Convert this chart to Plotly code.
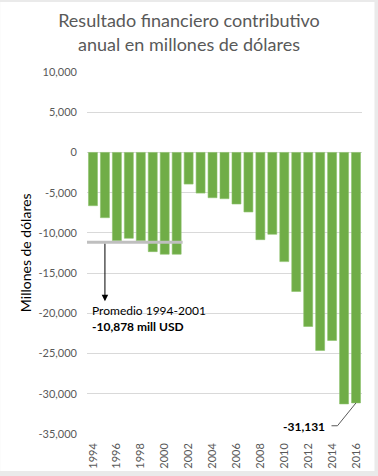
import plotly.graph_objects as go

years = list(range(1994, 2017))
values = [-6620, -8110, -10990, -10670, -10990, -12330, -12650, -12650,
          -3930, -5050, -5630, -5750, -6410, -7400, -10840, -10170,
          -13570, -17290, -21630, -24610, -23370, -31260, -31131]
ytick_vals = [10000, 5000, 0, -5000, -10000, -15000, -20000, -25000, -30000, -35000]
ytick_text = ["10,000", "5,000", "0", "-5,000", "-10,000", "-15,000", "-20,000",
              "-25,000", "-30,000", "-35,000"]
xtick_vals = list(range(1994, 2017, 2))
promedio_linea = -11170
promedio_texto = "Promedio 1994-2001<br><b>-10,878 mill USD</b>"
label_2016 = "<b>-31,131</b>"

FONT = "Lato"
GRAY = "#595959"

fig = go.Figure()
fig.add_trace(go.Bar(
    x=years, y=values, width=0.75,
    marker=dict(color="#70AD47", line=dict(color="#8CC16A", width=0.6)),
    hoverinfo="x+y", showlegend=False,
))

# average line
fig.add_shape(type="line", x0=1993.5, x1=2001.5, y0=promedio_linea, y1=promedio_linea,
              line=dict(color="#BFBFBF", width=3), layer="above")
# arrow
fig.add_annotation(x=1995, y=-18500, ax=1995, ay=promedio_linea, xref="x", yref="y",
                   axref="x", ayref="y", text="", showarrow=True, arrowhead=2,
                   arrowsize=1.3, arrowwidth=1, arrowcolor="#000000")
fig.add_annotation(x=1993.78, y=-20600, xref="x", yref="y", text=promedio_texto,
                   showarrow=False, xanchor="left", yanchor="middle", align="left",
                   font=dict(family=FONT, size=12, color="#000000"))
# label for 2016
fig.add_trace(go.Scatter(x=[2013.95, 2014.45, years[-1]], y=[-33975, -33975, values[-1]],
                         mode="lines", line=dict(color=GRAY, width=1),
                         hoverinfo="skip", showlegend=False))
fig.add_annotation(x=2013.6, y=-34050, xref="x", yref="y", text=label_2016,
                   showarrow=False, xanchor="right", yanchor="middle",
                   font=dict(family=FONT, size=12, color="#000000"))
# y axis title
fig.add_annotation(x=-0.225, y=0.5, xref="paper", yref="paper",
                   text="Millones de dólares", textangle=-90, showarrow=False,
                   xanchor="center", yanchor="middle",
                   font=dict(family=FONT, size=14, color="#000000"))
# outer chart border (white area on light gray)
fig.add_shape(type="rect", xref="paper", yref="paper",
              x0=-87/275.5, x1=(375 - 87) / 275.5, y0=-(471 - 434) / 362.5, y1=1 + (72 - 2) / 362.5,
              fillcolor="white", line=dict(width=0), layer="below")

fig.update_layout(
    width=378, height=476,
    margin=dict(l=87, r=15.5, t=72, b=41.5, autoexpand=False),
    paper_bgcolor="#EAEAEA", plot_bgcolor="rgba(0,0,0,0)",
    title=dict(text="Resultado financiero contributivo<br>anual en millones de dólares",
               x=0.5, xref="container", xanchor="center", y=0.943, yanchor="middle",
               font=dict(family=FONT, size=18, color=GRAY)),
    font=dict(family=FONT, color=GRAY),
    bargap=0.25,
)
fig.update_xaxes(range=[1993.5, 2016.5], tickvals=xtick_vals,
                 ticktext=[str(v) for v in xtick_vals], tickangle=-90,
                 showgrid=False, zeroline=False, showline=False, automargin=False,
                 tickfont=dict(family=FONT, size=11, color=GRAY),
                 ticklabelstandoff=6)
fig.update_yaxes(range=[-35000, 10000], tickvals=ytick_vals, ticktext=ytick_text,
                 showgrid=True, gridcolor="#D9D9D9", gridwidth=1,
                 zeroline=False, showline=False, automargin=False,
                 tickfont=dict(family=FONT, size=11, color=GRAY),
                 ticklabelstandoff=9)

fig.write_html("out.html", config={"displayModeBar": False},
               post_script="document.body.style.margin='0';")
